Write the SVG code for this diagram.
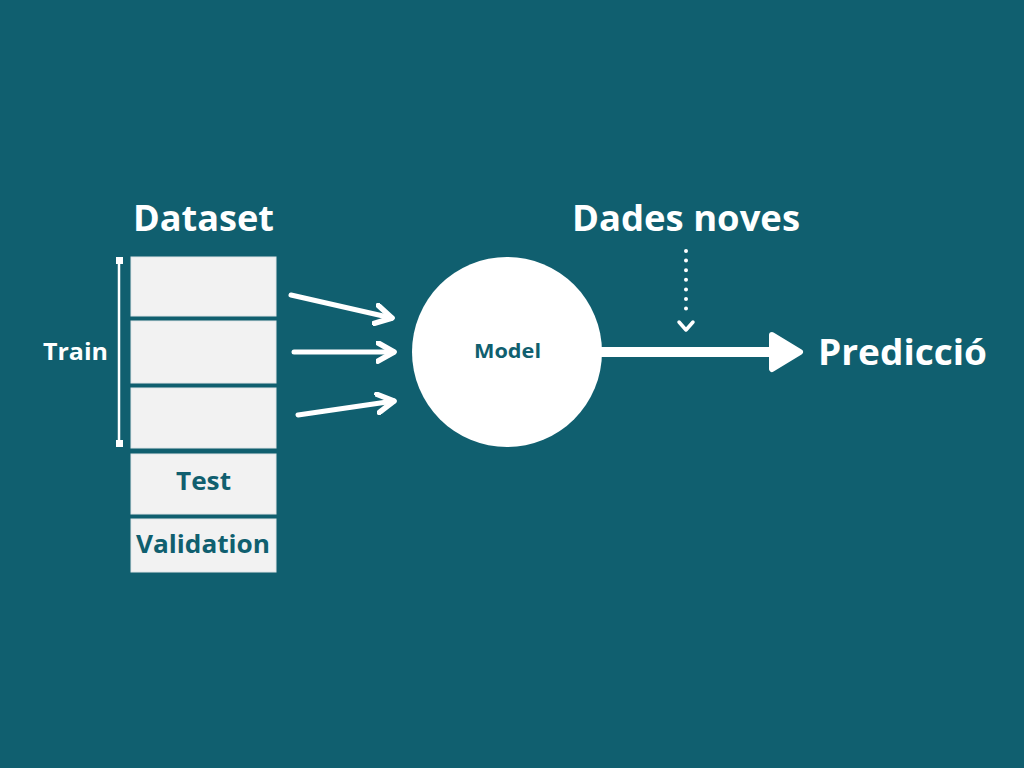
<svg xmlns="http://www.w3.org/2000/svg" width="1024" height="768" viewBox="0 0 1024 768">
<defs>
<style>
.t{font-family:"Open Sans","Liberation Sans",sans-serif;font-weight:bold;}
.w{fill:#ffffff;}
.d{fill:#105f6f;}
.box{fill:#f2f2f2;stroke:#dfe6e8;stroke-width:1;}
.arr{stroke:#ffffff;stroke-width:5;stroke-linecap:round;fill:none;}
</style>
<marker id="chev" viewBox="0 0 10 10" refX="8" refY="5" markerWidth="4.6" markerHeight="4.6" orient="auto" markerUnits="strokeWidth">
<path d="M1,1 L8,5 L1,9" fill="none" stroke="#ffffff" stroke-width="2.4" stroke-linecap="round" stroke-linejoin="round"/>
</marker>
</defs>
<rect width="1024" height="768" fill="#105f6f"/>
<g id="title-dataset"><text class="t w" x="133" y="231" font-size="35" textLength="141" lengthAdjust="spacingAndGlyphs">Dataset</text></g>
<g id="train-bracket">
<line x1="119" y1="260" x2="119" y2="443" stroke="#ffffff" stroke-width="2.5"/>
<rect x="116" y="257" width="7" height="7" fill="#ffffff"/>
<rect x="116" y="440" width="7" height="7" fill="#ffffff"/>
<text class="t w" x="43" y="360" font-size="23" textLength="65" lengthAdjust="spacingAndGlyphs">Train</text>
</g>
<g id="train1"><rect class="box" x="131" y="257" width="145" height="59"/></g>
<g id="train2"><rect class="box" x="131" y="321" width="145" height="62"/></g>
<g id="train3"><rect class="box" x="131" y="388" width="145" height="60"/></g>
<g id="test"><rect class="box" x="131" y="454" width="145" height="60"/><text class="t d" x="176" y="490" font-size="25" textLength="55" lengthAdjust="spacingAndGlyphs">Test</text></g>
<g id="validation"><rect class="box" x="131" y="519" width="145" height="53"/><text class="t d" x="136" y="553" font-size="25" textLength="134" lengthAdjust="spacingAndGlyphs">Validation</text></g>
<g id="model"><circle cx="507" cy="352" r="95" fill="#ffffff"/><text class="t d" x="474" y="358" font-size="19" textLength="67" lengthAdjust="spacingAndGlyphs">Model</text></g>
<g id="title-dades"><text class="t w" x="572" y="231" font-size="35" textLength="228" lengthAdjust="spacingAndGlyphs">Dades noves</text></g>
<g id="prediccio"><text class="t w" x="818" y="365" font-size="35" textLength="169" lengthAdjust="spacingAndGlyphs">Predicció</text></g>
<g id="connectors">
<line class="arr" x1="291" y1="295" x2="392" y2="318" marker-end="url(#chev)"/>
<line class="arr" x1="294" y1="352" x2="394" y2="352" marker-end="url(#chev)"/>
<line class="arr" x1="298" y1="415" x2="394" y2="401" marker-end="url(#chev)"/>
<line x1="686" y1="251" x2="686" y2="318" stroke="#ffffff" stroke-width="4" stroke-linecap="round" stroke-dasharray="0 9.6"/>
<path d="M679,322 L686,330 L693,322" fill="none" stroke="#ffffff" stroke-width="3.5" stroke-linecap="round" stroke-linejoin="round"/>
<line x1="600" y1="352" x2="775" y2="352" stroke="#ffffff" stroke-width="10"/>
<path d="M772,335 L800,352 L772,369 Z" fill="#ffffff" stroke="#ffffff" stroke-width="6" stroke-linejoin="round"/>
</g>
</svg>
